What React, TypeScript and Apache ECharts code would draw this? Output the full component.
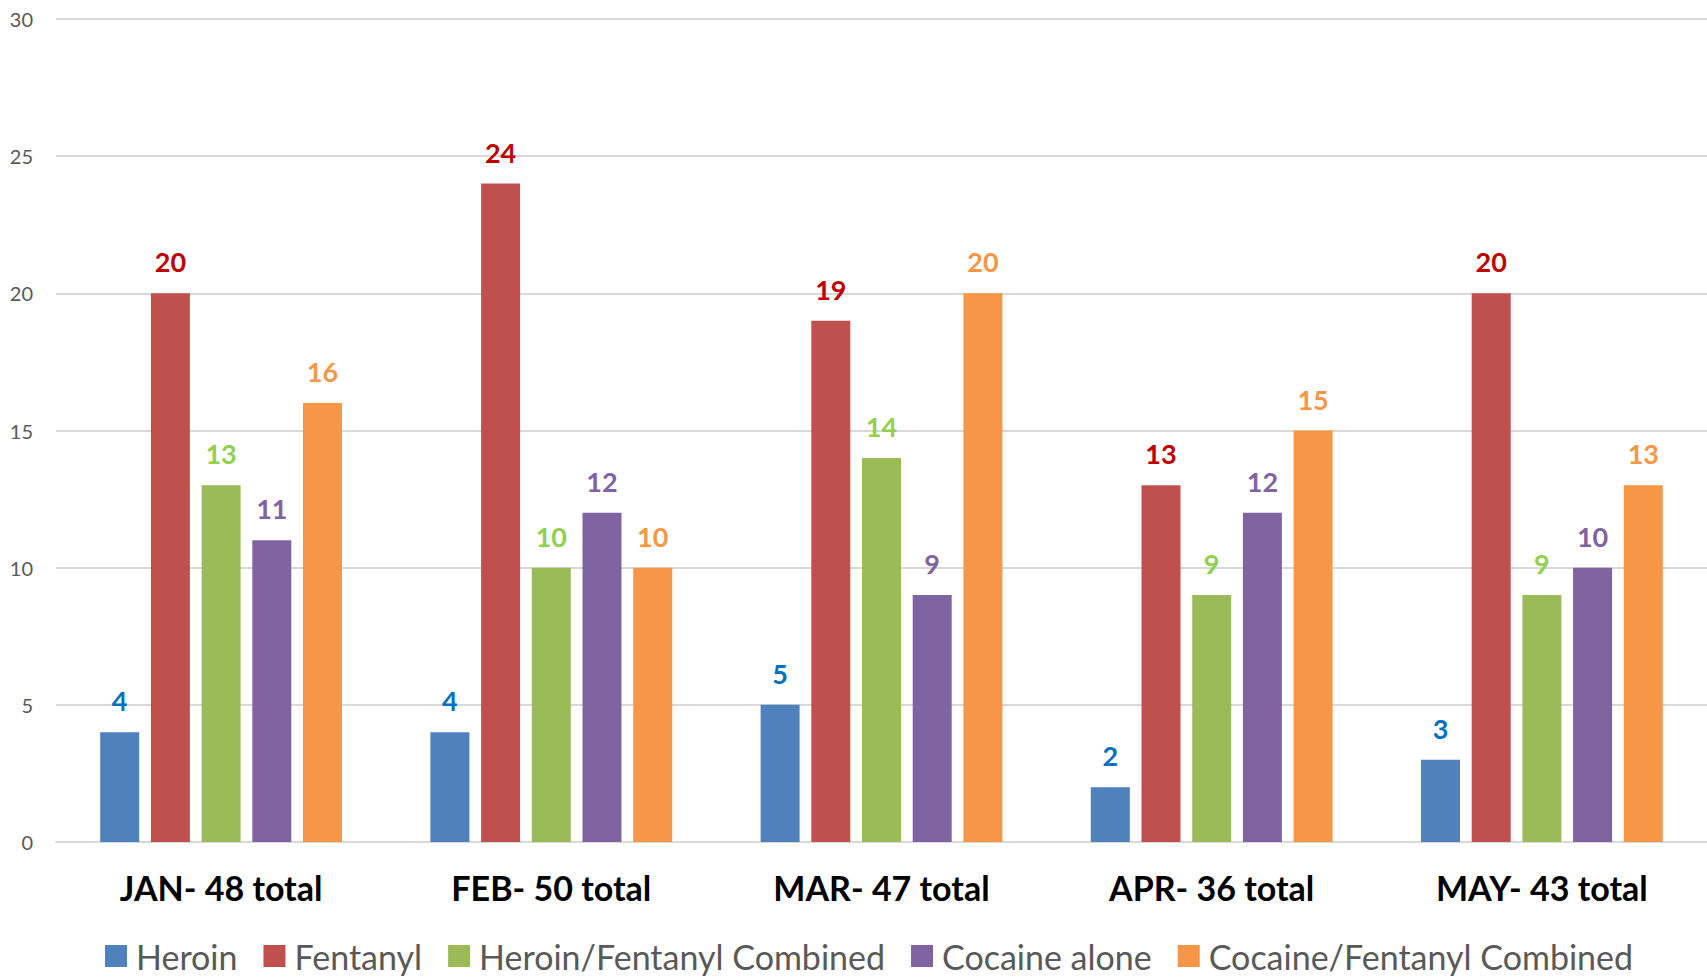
import React, { useEffect, useRef } from "react";
import * as echarts from "echarts";

const categories = ["JAN- 48 total", "FEB- 50 total", "MAR- 47 total", "APR- 36 total", "MAY- 43 total"];
const seriesNames = ["Heroin", "Fentanyl", "Heroin/Fentanyl Combined", "Cocaine alone", "Cocaine/Fentanyl Combined"];
const heroin = [4, 4, 5, 2, 3];
const fentanyl = [20, 24, 19, 13, 20];
const heroinFentanyl = [13, 10, 14, 9, 9];
const cocaineAlone = [11, 12, 9, 12, 10];
const cocaineFentanyl = [16, 10, 20, 15, 13];
const barColors = ["#4F81BD", "#C0504D", "#9BBB59", "#8064A2", "#F79646"];
const labelColors = ["#0070C0", "#C00000", "#92D050", "#8064A2", "#F79646"];

const FONT = "Lato, 'Open Sans', sans-serif";

export default function App() {
  const ref = useRef<HTMLDivElement>(null);
  useEffect(() => {
    if (!ref.current) return;
    const chart = echarts.init(ref.current, null, { renderer: "svg" });
    const data = [heroin, fentanyl, heroinFentanyl, cocaineAlone, cocaineFentanyl];
    chart.setOption({
      animation: false,
      textStyle: { fontFamily: FONT },
      grid: { left: 56, right: -4, top: 19, bottom: 978 - 842 },
      legend: {
        data: seriesNames,
        bottom: 0,
        left: 100,
        itemWidth: 22,
        itemHeight: 22,
        itemGap: 26,
        icon: "rect",
        textStyle: { fontSize: 34, color: "#595959", fontFamily: FONT, padding: [0, 0, 0, 4] },
      },
      xAxis: {
        type: "category",
        data: categories,
        axisTick: { show: false },
        axisLine: { lineStyle: { color: "#D9D9D9", width: 2 } },
        axisLabel: { fontSize: 34, fontWeight: "bold", color: "#000", margin: 28, fontFamily: FONT },
      },
      yAxis: {
        type: "value",
        min: 0,
        max: 30,
        interval: 5,
        axisLine: { show: false },
        axisTick: { show: false },
        splitLine: { lineStyle: { color: "#D9D9D9", width: 2 } },
        axisLabel: { fontSize: 20, color: "#595959", margin: 23, fontFamily: FONT },
      },
      series: seriesNames.map((name, i) => ({
        name,
        type: "bar",
        data: data[i],
        barWidth: 39,
        barGap: "30%",
        itemStyle: { color: barColors[i] },
        label: {
          show: true,
          position: "top",
          distance: 18,
          fontSize: 27,
          fontWeight: "bold",
          color: labelColors[i],
          fontFamily: FONT,
        },
      })),
    });
    return () => chart.dispose();
  }, []);
  return (
    <div
      ref={ref}
      style={{ position: "absolute", left: 0, top: 0, width: 1707, height: 978, overflow: "hidden" }}
    />
  );
}
